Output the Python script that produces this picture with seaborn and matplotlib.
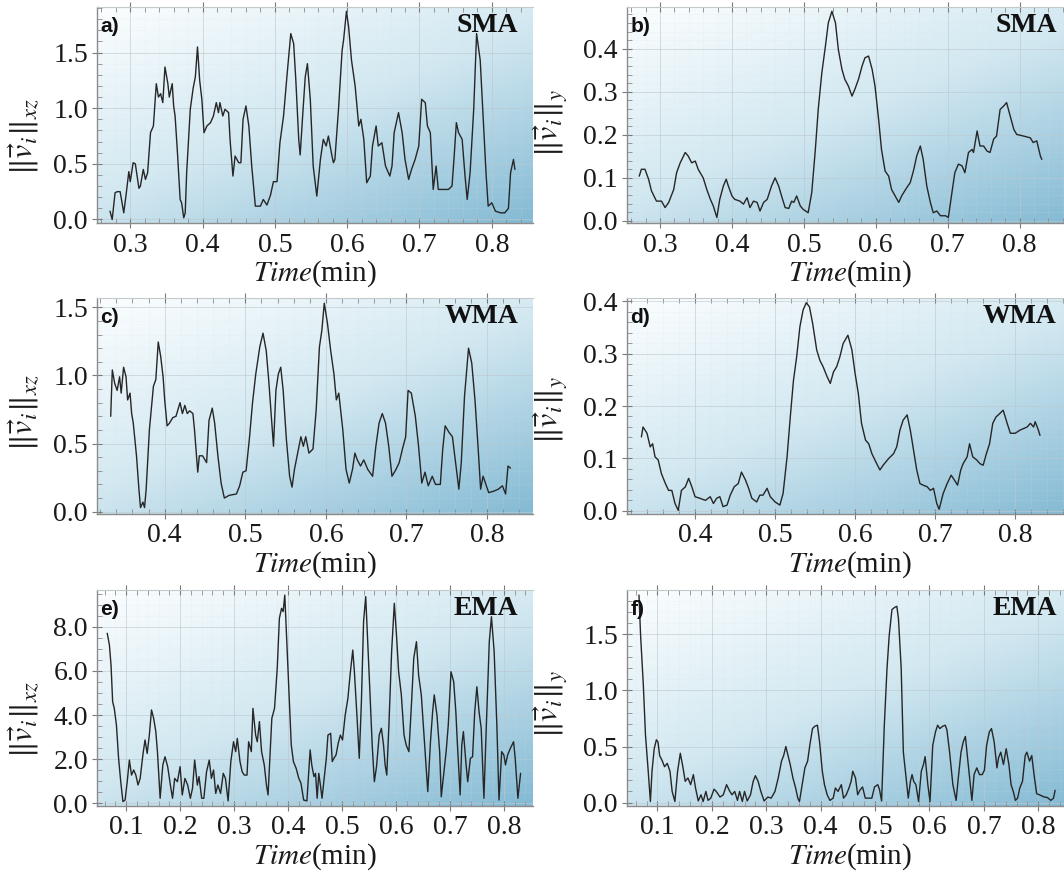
import numpy as np
import matplotlib
matplotlib.use("Agg")
import matplotlib.pyplot as plt
import seaborn as sns
from matplotlib.ticker import MultipleLocator, AutoMinorLocator, FormatStrFormatter
from matplotlib.colors import LinearSegmentedColormap

# ---------------------------------------------------------------- data
# SMA, horizontal (xz) speed
sma_xz_time = [0.272, 0.275, 0.279, 0.282, 0.286, 0.291, 0.294, 0.298, 0.300, 0.304,
               0.307, 0.312, 0.314, 0.318, 0.321, 0.324, 0.328, 0.332, 0.336, 0.339,
               0.342, 0.345, 0.348, 0.352, 0.354, 0.358, 0.360, 0.362, 0.365, 0.369,
               0.371, 0.374, 0.376, 0.378, 0.383, 0.387, 0.390, 0.393, 0.396, 0.399,
               0.402, 0.406, 0.411, 0.415, 0.419, 0.422, 0.424, 0.428, 0.431, 0.436,
               0.438, 0.442, 0.445, 0.450, 0.453, 0.456, 0.460, 0.464, 0.468, 0.473,
               0.480, 0.484, 0.489, 0.494, 0.498, 0.503, 0.507, 0.512, 0.517, 0.522,
               0.526, 0.529, 0.533, 0.535, 0.539, 0.542, 0.545, 0.549, 0.553, 0.558,
               0.563, 0.567, 0.571, 0.574, 0.579, 0.581, 0.583, 0.588, 0.593, 0.595,
               0.599, 0.602, 0.606, 0.611, 0.616, 0.619, 0.623, 0.627, 0.632, 0.635,
               0.640, 0.643, 0.648, 0.653, 0.659, 0.662, 0.665, 0.671, 0.676, 0.680,
               0.685, 0.689, 0.694, 0.699, 0.703, 0.708, 0.711, 0.715, 0.719, 0.723,
               0.726, 0.731, 0.740, 0.745, 0.748, 0.751, 0.754, 0.759, 0.763, 0.766,
               0.770, 0.775, 0.779, 0.784, 0.788, 0.792, 0.795, 0.800, 0.805, 0.812,
               0.818, 0.823, 0.826, 0.830, 0.832]
sma_xz_speed = [0.075, 0.0, 0.24, 0.25, 0.25, 0.06, 0.21, 0.43, 0.34, 0.51,
                0.50, 0.28, 0.30, 0.45, 0.36, 0.42, 0.78, 0.84, 1.22, 1.10,
                1.13, 1.05, 1.37, 1.22, 1.10, 1.22, 1.02, 0.93, 0.63, 0.18,
                0.15, 0.015, 0.06, 0.42, 0.99, 1.18, 1.28, 1.55, 1.25, 1.08,
                0.78, 0.84, 0.87, 0.93, 1.05, 0.96, 1.05, 0.93, 0.99, 0.96,
                0.72, 0.39, 0.57, 0.51, 0.51, 0.90, 1.02, 0.84, 0.48, 0.12,
                0.12, 0.18, 0.13, 0.22, 0.34, 0.34, 0.69, 0.93, 1.31, 1.67,
                1.58, 1.25, 0.72, 0.58, 0.99, 1.28, 1.40, 1.08, 0.48, 0.21,
                0.54, 0.72, 0.66, 0.75, 0.57, 0.51, 0.54, 0.99, 1.52, 1.61,
                1.87, 1.73, 1.43, 1.20, 0.84, 0.90, 0.72, 0.33, 0.39, 0.66,
                0.84, 0.66, 0.69, 0.48, 0.39, 0.48, 0.78, 0.96, 0.78, 0.54,
                0.36, 0.45, 0.54, 0.66, 1.08, 1.05, 0.84, 0.78, 0.27, 0.48,
                0.27, 0.27, 0.27, 0.30, 0.57, 0.87, 0.78, 0.72, 0.39, 0.18,
                0.42, 0.99, 1.67, 1.43, 0.93, 0.42, 0.12, 0.15, 0.075, 0.06,
                0.06, 0.10, 0.42, 0.54, 0.45]

# SMA, vertical (y) speed
sma_y_time = [0.271, 0.274, 0.279, 0.284, 0.288, 0.295, 0.302, 0.307, 0.312, 0.319,
              0.323, 0.328, 0.335, 0.339, 0.344, 0.349, 0.353, 0.360, 0.365, 0.370,
              0.374, 0.379, 0.383, 0.388, 0.392, 0.395, 0.400, 0.404, 0.411, 0.416,
              0.421, 0.425, 0.430, 0.435, 0.439, 0.444, 0.449, 0.455, 0.460, 0.465,
              0.469, 0.474, 0.479, 0.483, 0.486, 0.490, 0.495, 0.499, 0.506, 0.511,
              0.516, 0.520, 0.525, 0.530, 0.534, 0.539, 0.544, 0.548, 0.553, 0.557,
              0.562, 0.567, 0.571, 0.576, 0.581, 0.585, 0.590, 0.595, 0.599, 0.604,
              0.608, 0.613, 0.618, 0.622, 0.627, 0.632, 0.636, 0.643, 0.648, 0.653,
              0.657, 0.662, 0.666, 0.671, 0.676, 0.680, 0.685, 0.690, 0.697, 0.701,
              0.706, 0.710, 0.715, 0.720, 0.724, 0.729, 0.734, 0.736, 0.741, 0.745,
              0.750, 0.755, 0.759, 0.764, 0.768, 0.773, 0.778, 0.782, 0.787, 0.792,
              0.796, 0.806, 0.815, 0.819, 0.824, 0.829, 0.831]
sma_y_speed = [0.104, 0.120, 0.120, 0.097, 0.070, 0.046, 0.046, 0.031, 0.043, 0.073,
               0.112, 0.135, 0.159, 0.151, 0.135, 0.139, 0.120, 0.100, 0.073, 0.050,
               0.035, 0.008, 0.050, 0.081, 0.097, 0.081, 0.058, 0.050, 0.046, 0.039,
               0.054, 0.031, 0.046, 0.043, 0.023, 0.043, 0.050, 0.081, 0.100, 0.081,
               0.058, 0.031, 0.029, 0.046, 0.043, 0.058, 0.035, 0.027, 0.019, 0.066,
               0.166, 0.259, 0.344, 0.406, 0.460, 0.487, 0.460, 0.398, 0.352, 0.329,
               0.313, 0.290, 0.306, 0.329, 0.360, 0.379, 0.383, 0.352, 0.313, 0.236,
               0.166, 0.116, 0.104, 0.073, 0.058, 0.043, 0.058, 0.077, 0.089, 0.120,
               0.151, 0.174, 0.143, 0.081, 0.043, 0.019, 0.023, 0.012, 0.012, 0.008,
               0.066, 0.112, 0.132, 0.128, 0.112, 0.159, 0.166, 0.159, 0.209, 0.174,
               0.174, 0.162, 0.159, 0.190, 0.197, 0.259, 0.267, 0.275, 0.244, 0.213,
               0.201, 0.197, 0.193, 0.182, 0.186, 0.151, 0.143]

# WMA, horizontal (xz) speed
wma_xz_time = [0.333, 0.335, 0.338, 0.341, 0.344, 0.346, 0.349, 0.352, 0.354, 0.357,
               0.359, 0.361, 0.365, 0.368, 0.370, 0.373, 0.375, 0.377, 0.381, 0.386,
               0.389, 0.392, 0.395, 0.398, 0.400, 0.403, 0.406, 0.410, 0.414, 0.419,
               0.422, 0.425, 0.428, 0.431, 0.435, 0.437, 0.441, 0.443, 0.447, 0.452,
               0.455, 0.459, 0.462, 0.466, 0.470, 0.474, 0.480, 0.489, 0.493, 0.497,
               0.501, 0.505, 0.509, 0.513, 0.518, 0.522, 0.526, 0.529, 0.532, 0.535,
               0.538, 0.541, 0.544, 0.547, 0.551, 0.555, 0.558, 0.561, 0.565, 0.569,
               0.572, 0.575, 0.579, 0.584, 0.588, 0.592, 0.595, 0.598, 0.602, 0.606,
               0.610, 0.613, 0.616, 0.621, 0.625, 0.629, 0.633, 0.636, 0.639, 0.643,
               0.647, 0.652, 0.658, 0.662, 0.666, 0.670, 0.674, 0.678, 0.682, 0.687,
               0.691, 0.695, 0.699, 0.702, 0.706, 0.711, 0.715, 0.719, 0.723, 0.727,
               0.732, 0.736, 0.742, 0.745, 0.748, 0.753, 0.757, 0.761, 0.765, 0.768,
               0.772, 0.777, 0.781, 0.785, 0.789, 0.792, 0.795, 0.798, 0.802, 0.808,
               0.814, 0.819, 0.823, 0.826, 0.829]
wma_xz_speed = [0.70, 1.04, 0.94, 0.89, 0.99, 0.87, 1.06, 0.99, 0.82, 0.87,
                0.72, 0.65, 0.41, 0.165, 0.03, 0.07, 0.03, 0.165, 0.60, 0.92,
                0.97, 1.245, 1.14, 0.99, 0.82, 0.63, 0.65, 0.69, 0.70, 0.80,
                0.72, 0.78, 0.72, 0.74, 0.72, 0.60, 0.29, 0.41, 0.41, 0.36,
                0.67, 0.76, 0.65, 0.41, 0.21, 0.10, 0.12, 0.13, 0.19, 0.29,
                0.30, 0.53, 0.80, 1.01, 1.21, 1.31, 1.18, 0.97, 0.72, 0.48,
                0.89, 1.01, 1.06, 0.89, 0.53, 0.26, 0.18, 0.31, 0.43, 0.55,
                0.48, 0.55, 0.43, 0.46, 0.75, 1.21, 1.33, 1.53, 1.38, 1.18,
                1.01, 0.82, 0.87, 0.60, 0.31, 0.21, 0.31, 0.43, 0.38, 0.335,
                0.38, 0.31, 0.26, 0.48, 0.65, 0.72, 0.65, 0.48, 0.26, 0.31,
                0.36, 0.46, 0.55, 0.89, 0.87, 0.70, 0.48, 0.21, 0.29, 0.19,
                0.26, 0.20, 0.20, 0.46, 0.63, 0.58, 0.55, 0.36, 0.165, 0.36,
                0.845, 1.20, 1.09, 0.82, 0.46, 0.165, 0.26, 0.21, 0.14, 0.15,
                0.165, 0.19, 0.13, 0.335, 0.32]

# WMA, vertical (y) speed
wma_y_time = [0.333, 0.335, 0.340, 0.344, 0.347, 0.350, 0.354, 0.358, 0.363, 0.367,
              0.371, 0.375, 0.379, 0.383, 0.388, 0.392, 0.396, 0.400, 0.406, 0.413,
              0.419, 0.423, 0.427, 0.431, 0.435, 0.440, 0.444, 0.449, 0.454, 0.458,
              0.463, 0.467, 0.471, 0.477, 0.481, 0.485, 0.490, 0.494, 0.500, 0.506,
              0.510, 0.515, 0.519, 0.523, 0.527, 0.531, 0.535, 0.539, 0.543, 0.547,
              0.552, 0.556, 0.560, 0.565, 0.569, 0.573, 0.577, 0.581, 0.585, 0.591,
              0.596, 0.600, 0.604, 0.608, 0.613, 0.617, 0.621, 0.627, 0.631, 0.635,
              0.642, 0.648, 0.652, 0.656, 0.660, 0.665, 0.669, 0.673, 0.677, 0.681,
              0.685, 0.690, 0.694, 0.698, 0.702, 0.705, 0.710, 0.715, 0.720, 0.724,
              0.728, 0.732, 0.735, 0.740, 0.743, 0.747, 0.752, 0.756, 0.760, 0.764,
              0.768, 0.772, 0.776, 0.781, 0.785, 0.790, 0.794, 0.800, 0.806, 0.815,
              0.819, 0.823, 0.825, 0.829, 0.831]
wma_y_speed = [0.141, 0.160, 0.148, 0.122, 0.128, 0.103, 0.097, 0.071, 0.052, 0.039,
               0.039, 0.014, 0.001, 0.039, 0.046, 0.062, 0.046, 0.027, 0.024, 0.020,
               0.027, 0.014, 0.024, 0.027, 0.008, 0.011, 0.030, 0.046, 0.052, 0.074,
               0.059, 0.043, 0.024, 0.017, 0.030, 0.030, 0.043, 0.027, 0.017, 0.011,
               0.033, 0.103, 0.179, 0.249, 0.294, 0.351, 0.383, 0.397, 0.389, 0.357,
               0.307, 0.287, 0.275, 0.256, 0.243, 0.265, 0.275, 0.294, 0.319, 0.335,
               0.307, 0.262, 0.224, 0.167, 0.135, 0.128, 0.109, 0.090, 0.078, 0.087,
               0.100, 0.109, 0.122, 0.154, 0.173, 0.183, 0.154, 0.116, 0.078, 0.052,
               0.049, 0.046, 0.039, 0.043, 0.014, 0.003, 0.033, 0.052, 0.068, 0.059,
               0.049, 0.078, 0.090, 0.103, 0.128, 0.103, 0.097, 0.090, 0.087, 0.109,
               0.128, 0.167, 0.179, 0.186, 0.192, 0.167, 0.148, 0.148, 0.154, 0.160,
               0.167, 0.160, 0.170, 0.154, 0.144]

# EMA, horizontal (xz) speed
ema_xz_time = [0.065, 0.069, 0.072, 0.075, 0.078, 0.082, 0.086, 0.090, 0.094, 0.098,
               0.102, 0.106, 0.110, 0.114, 0.118, 0.122, 0.126, 0.131, 0.135, 0.139,
               0.143, 0.147, 0.151, 0.155, 0.158, 0.163, 0.168, 0.172, 0.177, 0.182,
               0.186, 0.190, 0.195, 0.200, 0.204, 0.209, 0.214, 0.219, 0.223, 0.227,
               0.232, 0.235, 0.240, 0.244, 0.249, 0.254, 0.258, 0.262, 0.266, 0.270,
               0.275, 0.280, 0.284, 0.289, 0.294, 0.299, 0.303, 0.306, 0.311, 0.315,
               0.319, 0.324, 0.327, 0.332, 0.335, 0.340, 0.343, 0.347, 0.351, 0.356,
               0.360, 0.363, 0.367, 0.370, 0.375, 0.380, 0.384, 0.388, 0.391, 0.394,
               0.398, 0.402, 0.406, 0.410, 0.415, 0.420, 0.424, 0.429, 0.435, 0.441,
               0.444, 0.448, 0.451, 0.454, 0.457, 0.460, 0.463, 0.466, 0.471, 0.474,
               0.479, 0.482, 0.485, 0.489, 0.493, 0.497, 0.501, 0.506, 0.511, 0.515,
               0.520, 0.523, 0.528, 0.532, 0.536, 0.540, 0.544, 0.548, 0.552, 0.556,
               0.560, 0.564, 0.569, 0.573, 0.577, 0.580, 0.583, 0.587, 0.592, 0.597,
               0.601, 0.605, 0.610, 0.615, 0.619, 0.624, 0.629, 0.633, 0.638, 0.642,
               0.647, 0.652, 0.656, 0.659, 0.664, 0.668, 0.671, 0.676, 0.681, 0.684,
               0.689, 0.693, 0.697, 0.702, 0.707, 0.711, 0.714, 0.719, 0.722, 0.725,
               0.730, 0.733, 0.738, 0.742, 0.746, 0.750, 0.754, 0.758, 0.763, 0.768,
               0.773, 0.777, 0.782, 0.787, 0.791, 0.796, 0.800, 0.803, 0.807, 0.812,
               0.815, 0.818, 0.821, 0.826, 0.831]
ema_xz_speed = [7.70, 7.17, 6.26, 4.60, 4.30, 3.55, 2.04, 0.98, 0.08, 0.15,
                0.98, 1.96, 1.28, 1.51, 1.28, 0.83, 1.13, 2.19, 2.87, 2.26,
                3.09, 4.23, 3.85, 3.25, 2.34, 0.23, 1.74, 2.11, 1.66, 0.83,
                0.23, 1.13, 0.98, 1.66, 0.38, 1.13, 0.83, 0.23, 0.68, 1.96,
                0.83, 1.21, 0.23, 0.23, 1.43, 1.96, 1.13, 1.51, 0.45, 0.83,
                0.45, 1.36, 1.13, 0.11, 1.89, 2.79, 2.34, 2.94, 1.89, 1.43,
                1.28, 1.28, 2.79, 2.34, 4.30, 3.09, 2.79, 3.70, 2.34, 1.74,
                0.83, 0.38, 2.34, 3.85, 4.30, 6.11, 8.38, 8.83, 8.68, 9.43,
                7.17, 4.91, 2.64, 1.89, 1.59, 1.13, 0.91, 0.15, 0.11, 2.42,
                1.74, 1.21, 1.36, 0.23, 1.36, 0.83, 0.23, 0.91, 2.04, 3.09,
                3.17, 1.89, 2.04, 2.19, 2.72, 3.09, 2.87, 4.00, 4.76, 5.81,
                6.94, 5.96, 3.85, 2.04, 4.60, 8.23, 9.36, 7.17, 4.91, 2.64,
                0.98, 1.66, 3.09, 3.40, 2.64, 1.74, 1.28, 3.55, 6.87, 9.06,
                7.62, 5.96, 4.91, 3.09, 2.64, 2.34, 4.60, 6.57, 7.32, 5.81,
                4.91, 3.09, 1.59, 0.53, 2.79, 4.15, 4.91, 4.00, 2.34, 0.30,
                1.43, 2.34, 3.55, 5.96, 5.51, 4.15, 2.64, 0.38, 2.64, 3.25,
                1.74, 0.98, 2.04, 2.11, 4.15, 5.28, 4.15, 3.40, 0.23, 3.85,
                7.32, 8.45, 6.87, 3.55, 0.15, 2.34, 2.19, 1.74, 2.19, 2.49,
                2.64, 2.79, 2.04, 0.23, 1.36]

# EMA, vertical (y) speed
ema_y_time = [0.066, 0.069, 0.074, 0.078, 0.083, 0.087, 0.090, 0.094, 0.098, 0.101,
              0.104, 0.109, 0.113, 0.118, 0.123, 0.127, 0.132, 0.137, 0.142, 0.147,
              0.151, 0.156, 0.161, 0.166, 0.170, 0.175, 0.180, 0.184, 0.189, 0.193,
              0.198, 0.204, 0.208, 0.215, 0.221, 0.227, 0.233, 0.237, 0.242, 0.247,
              0.251, 0.256, 0.260, 0.265, 0.271, 0.276, 0.280, 0.285, 0.290, 0.296,
              0.303, 0.309, 0.316, 0.322, 0.328, 0.332, 0.336, 0.340, 0.344, 0.349,
              0.354, 0.358, 0.361, 0.366, 0.371, 0.376, 0.380, 0.385, 0.389, 0.394,
              0.398, 0.403, 0.407, 0.412, 0.417, 0.423, 0.427, 0.432, 0.438, 0.442,
              0.447, 0.452, 0.456, 0.459, 0.464, 0.468, 0.472, 0.477, 0.482, 0.490,
              0.494, 0.499, 0.505, 0.508, 0.512, 0.517, 0.522, 0.526, 0.531, 0.536,
              0.540, 0.543, 0.548, 0.552, 0.557, 0.561, 0.565, 0.568, 0.571, 0.575,
              0.580, 0.585, 0.589, 0.592, 0.597, 0.601, 0.606, 0.611, 0.615, 0.619,
              0.624, 0.629, 0.632, 0.637, 0.643, 0.649, 0.653, 0.658, 0.662, 0.666,
              0.670, 0.675, 0.678, 0.682, 0.687, 0.692, 0.697, 0.701, 0.705, 0.710,
              0.714, 0.719, 0.724, 0.727, 0.731, 0.736, 0.741, 0.746, 0.750, 0.754,
              0.758, 0.762, 0.766, 0.771, 0.776, 0.779, 0.784, 0.788, 0.793, 0.797,
              0.802, 0.811, 0.817, 0.823, 0.828, 0.831]
ema_y_speed = [1.85, 1.49, 1.05, 0.60, 0.28, 0.01, 0.28, 0.48, 0.56, 0.54,
               0.42, 0.37, 0.32, 0.35, 0.28, 0.10, 0.01, 0.28, 0.44, 0.31,
               0.19, 0.22, 0.16, 0.25, 0.13, 0.015, 0.07, 0.01, 0.10, 0.02,
               0.04, 0.12, 0.10, 0.05, 0.07, 0.16, 0.10, 0.07, 0.10, 0.02,
               0.10, 0.01, 0.10, 0.015, 0.07, 0.19, 0.24, 0.19, 0.10, 0.015,
               0.05, 0.04, 0.10, 0.22, 0.37, 0.42, 0.50, 0.42, 0.34, 0.22,
               0.13, 0.04, 0.01, 0.16, 0.31, 0.37, 0.51, 0.66, 0.68, 0.69,
               0.54, 0.28, 0.16, 0.07, 0.02, 0.04, 0.13, 0.10, 0.16, 0.04,
               0.07, 0.13, 0.19, 0.28, 0.22, 0.07, 0.11, 0.14, 0.04, 0.04,
               0.04, 0.14, 0.16, 0.12, 0.015, 0.69, 1.20, 1.49, 1.72, 1.74,
               1.75, 1.64, 1.20, 0.45, 0.22, 0.04, 0.19, 0.25, 0.19, 0.16,
               0.01, 0.28, 0.34, 0.41, 0.16, 0.01, 0.51, 0.63, 0.69, 0.66,
               0.68, 0.69, 0.65, 0.45, 0.16, 0.02, 0.22, 0.45, 0.54, 0.59,
               0.40, 0.16, 0.02, 0.25, 0.31, 0.25, 0.25, 0.29, 0.51, 0.63,
               0.66, 0.54, 0.31, 0.40, 0.45, 0.34, 0.48, 0.34, 0.16, 0.10,
               0.02, 0.04, 0.13, 0.19, 0.42, 0.45, 0.37, 0.42, 0.22, 0.08,
               0.07, 0.05, 0.045, 0.02, 0.04, 0.11]

letters = ["a)", "b)", "c)", "d)", "e)", "f)"]
methods = ["SMA", "SMA", "WMA", "WMA", "EMA", "EMA"]
xz_label = r"$\Vert\vec{v}_i\Vert_{xz}$"
y_label = r"$\Vert\vec{v}_i\Vert_{y}$"
time_label = r"$Time$(min)"

# ---------------------------------------------------------------- style
sns.set_theme(style="white")
plt.rcParams["font.family"] = ["Liberation Serif", "DejaVu Serif"]
plt.rcParams["mathtext.fontset"] = "stix"

W, H = 1064, 880
fig = plt.figure(figsize=(W / 100, H / 100), dpi=100, facecolor="white")

bg_cmap = LinearSegmentedColormap.from_list(
    "panel_bg", ["#fcfeff", "#d2e8f1", "#84bad4"])
yy, xx = np.mgrid[0:1:200j, 0:1:200j]
bg = 0.45 * xx + 0.55 * yy


def px_rect(left, top, right, bottom):
    return [left / W, 1 - bottom / H, (right - left) / W, (bottom - top) / H]


rows = [(7, 223.5), (298, 514), (590, 806)]
cols = [(97, 533), (627, 1072)]

specs = [
    dict(t=sma_xz_time, v=sma_xz_speed, xlim=(0.254, 0.857), ylim=(-0.036, 1.909),
         ystep=0.5, ylab=xz_label, ly=0.40),
    dict(t=sma_y_time, v=sma_y_speed, xlim=(0.254, 0.873), ylim=(-0.006, 0.497),
         ystep=0.1, ylab=y_label, ly=0.465),
    dict(t=wma_xz_time, v=wma_xz_speed, xlim=(0.316, 0.857), ylim=(-0.017, 1.568),
         ystep=0.5, ylab=xz_label, ly=0.47),
    dict(t=wma_y_time, v=wma_y_speed, xlim=(0.315, 0.871), ylim=(-0.006, 0.406),
         ystep=0.1, ylab=y_label, ly=0.48),
    dict(t=ema_xz_time, v=ema_xz_speed, xlim=(0.046, 0.854), ylim=(-0.12, 9.66),
         ystep=2.0, ylab=xz_label, ly=0.40),
    dict(t=ema_y_time, v=ema_y_speed, xlim=(0.044, 0.862), ylim=(-0.03, 1.895),
         ystep=0.5, ylab=y_label, ly=0.47),
]

for i, spec in enumerate(specs):
    r, c = divmod(i, 2)
    top, bottom = rows[r]
    left, right = cols[c]
    ax = fig.add_axes(px_rect(left, top, right, bottom))

    ax.imshow(bg, extent=(0, 1, 0, 1), transform=ax.transAxes, aspect="auto",
              cmap=bg_cmap, vmin=0, vmax=1, zorder=0, interpolation="bilinear")

    sns.lineplot(x=spec["t"], y=spec["v"], ax=ax, color="#262626",
                 linewidth=1.0, estimator=None, sort=False, zorder=3)

    ax.set_xlim(*spec["xlim"])
    ax.set_ylim(*spec["ylim"])
    ax.xaxis.set_major_locator(MultipleLocator(0.1))
    ax.xaxis.set_minor_locator(AutoMinorLocator(5))
    ax.yaxis.set_major_locator(MultipleLocator(spec["ystep"]))
    ax.yaxis.set_minor_locator(AutoMinorLocator(4 if spec["ystep"] == 2.0 else 5))
    ax.xaxis.set_major_formatter(FormatStrFormatter("%.1f"))
    ax.yaxis.set_major_formatter(FormatStrFormatter("%.1f"))

    ax.set_axisbelow(True)
    ax.grid(which="major", color="#bcc8ce", linewidth=0.6, alpha=0.7)
    ax.grid(which="minor", color="#d3dfe4", linewidth=0.5, linestyle=":", alpha=0.45)

    for side in ("left", "bottom"):
        ax.spines[side].set_color("#8c8c8c")
        ax.spines[side].set_linewidth(1.0)
    ax.spines["top"].set_color("#c4c9cc")
    ax.spines["top"].set_linewidth(0.8)
    ax.spines["right"].set_visible(False)

    ax.tick_params(which="major", direction="inout", length=7, width=0.8,
                   color="#7a7a7a", top=True, bottom=True, left=True, right=False,
                   labelsize=20, labelcolor="#1a1a1a", pad=3)
    ax.tick_params(which="minor", direction="in", length=3.5, width=0.6,
                   color="#8a8a8a", top=True, bottom=True, left=True, right=False)

    ax.set_xlabel(time_label, fontsize=21, color="#1a1a1a")
    ax.xaxis.set_label_coords(0.5, -0.162)
    ax.set_ylabel(spec["ylab"], fontsize=23, color="#1a1a1a")
    ax.yaxis.set_label_coords(-0.128, spec["ly"])

    ax.text(0.008, 0.955, letters[i], transform=ax.transAxes, fontsize=15,
            fontweight="bold", family=["Liberation Sans", "DejaVu Sans"],
            ha="left", va="top", color="#111111", zorder=5)
    ax.text(0.966, 0.97, methods[i], transform=ax.transAxes, fontsize=20,
            fontweight="bold", ha="right", va="top", color="#111111", zorder=5)

fig.savefig("out.png", dpi=100, facecolor="white")
